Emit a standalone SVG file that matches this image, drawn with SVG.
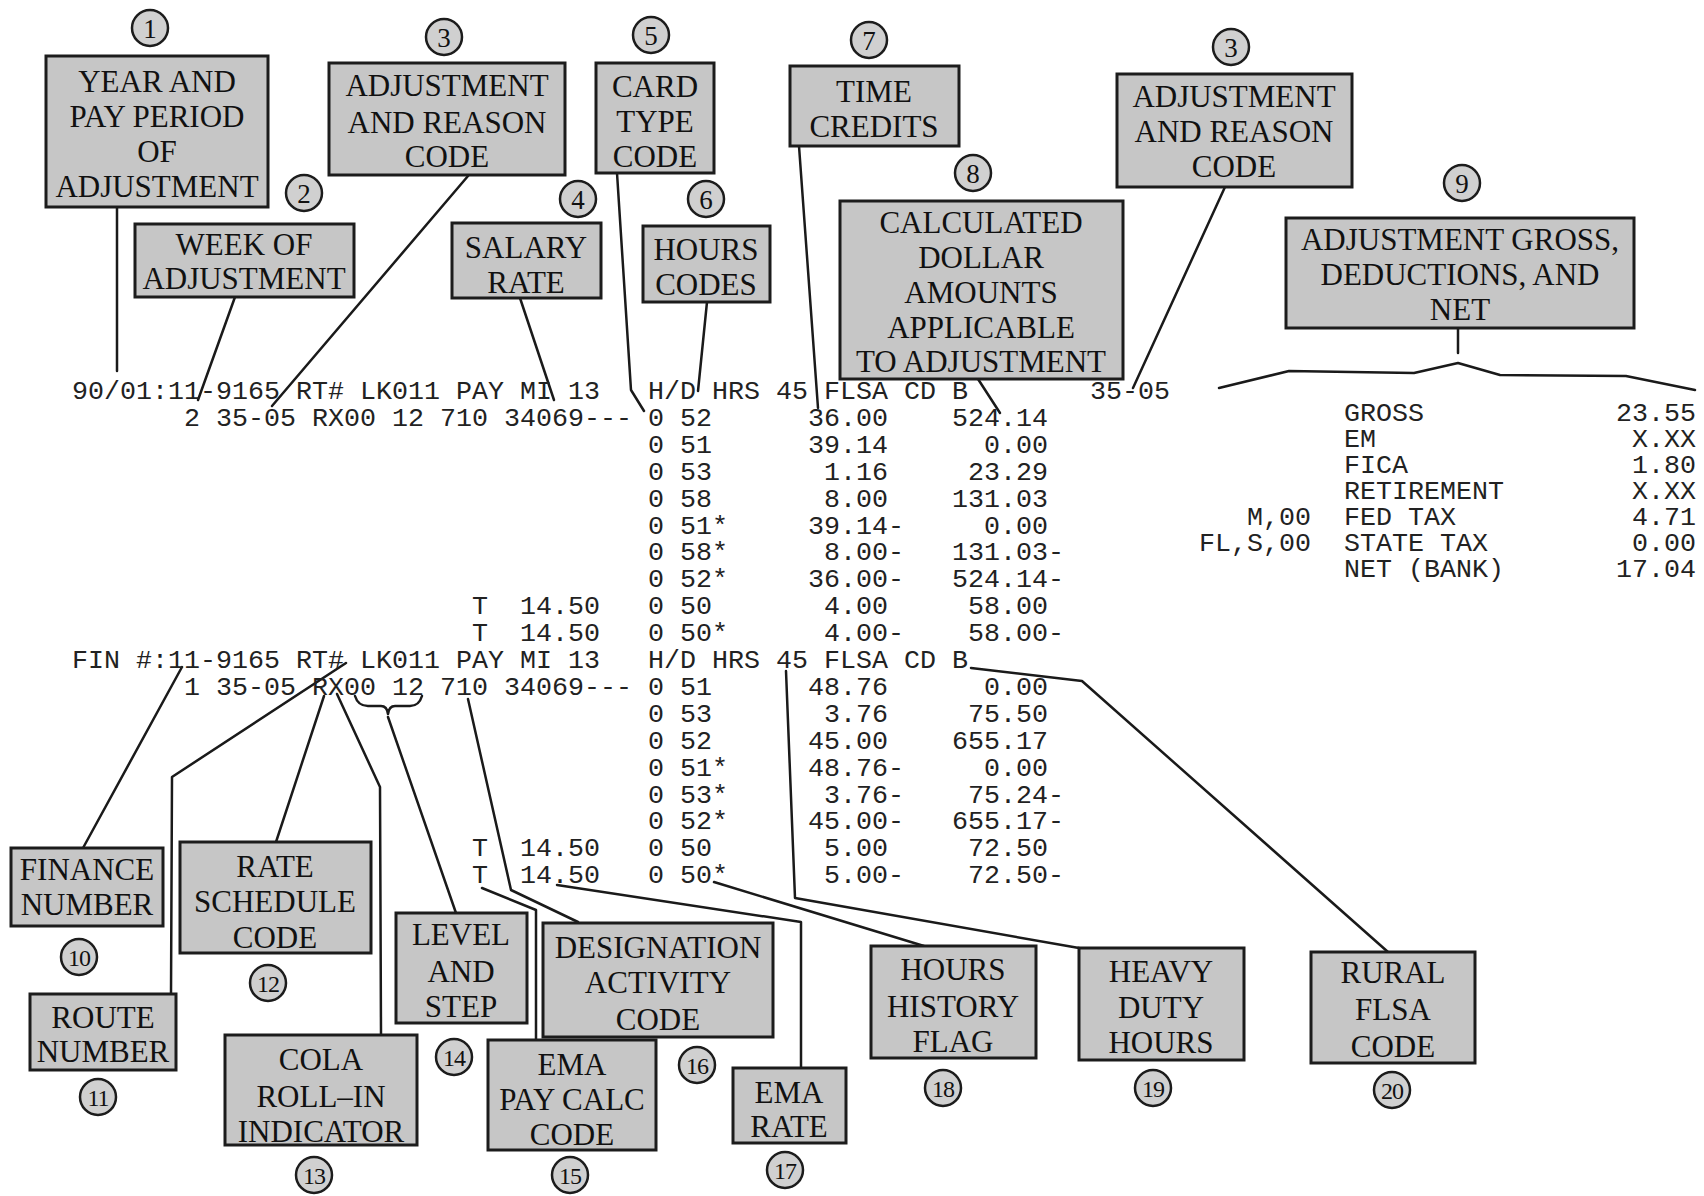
<svg xmlns="http://www.w3.org/2000/svg" width="1704" height="1196" viewBox="0 0 1704 1196">
<style>
.box{fill:#c6c6c6;stroke:#1c1c1c;stroke-width:3}
.cir{fill:#d0d0d0;stroke:#1c1c1c;stroke-width:2.5}
.lbl{font-family:"Liberation Serif","Times New Roman",serif;font-size:31px;text-anchor:middle;fill:#111}
.num{font-family:"Liberation Serif","Times New Roman",serif;font-size:27px;text-anchor:middle;fill:#111}
.num2{font-family:"Liberation Serif","Times New Roman",serif;font-size:24px;text-anchor:middle;fill:#111;letter-spacing:-1px}
.mono{font-family:"Liberation Mono","Courier New",monospace;font-size:26.67px;fill:#222}
.end{text-anchor:end}
.conn{fill:none;stroke:#1a1a1a;stroke-width:2.5;stroke-linejoin:round;stroke-linecap:round}
</style>
<rect width="1704" height="1196" fill="#ffffff"/>

<!-- connectors -->
<g id="connectors" class="conn">
<path d="M117,207 L117,371"/>
<path d="M235,297 L198,400"/>
<path d="M468,176 L272,406"/>
<path d="M520,298 L554,400"/>
<path d="M617,173 L631,390 L644,411"/>
<path d="M707,302 L698,391"/>
<path d="M799,146 L818,408"/>
<path d="M978,379 L1000,413"/>
<path d="M1225,187 L1133,388"/>
<path d="M1458,328 L1458,353"/>
<path d="M1219,388 L1289,371 L1414,373 L1458,363 L1500,375 L1626,376 L1695,390"/>
<path d="M182,667 L83,848"/>
<path d="M346,663 L172,777 L171,994"/>
<path d="M324,696 L276,842"/>
<path d="M337,694 L380,787 L381,1035"/>
<path d="M355,696 Q358,706 368,706 L381,706 Q387,706 388,714 Q389,706 395,706 L410,706 Q419,706 422,696"/>
<path d="M388,717 L456,913"/>
<path d="M482,888 L536,910 L536,1040"/>
<path d="M468,699 L511,890 L578,922"/>
<path d="M557,885 L801,922 L801,1068"/>
<path d="M714,882 L924,946"/>
<path d="M786,671 L795,898 L1079,948"/>
<path d="M971,668 L1082,681 L1388,952"/>
</g>

<!-- top nodes -->
<g id="n1">
<rect class="box" x="46" y="56" width="222" height="151"/>
<text class="lbl" x="157" y="92">YEAR AND</text>
<text class="lbl" x="157" y="127">PAY PERIOD</text>
<text class="lbl" x="157" y="162">OF</text>
<text class="lbl" x="157" y="197">ADJUSTMENT</text>
<circle class="cir" cx="150" cy="28" r="18"/><text class="num" x="150" y="37.5">1</text>
</g>
<g id="n2">
<rect class="box" x="135" y="224" width="219" height="73"/>
<text class="lbl" x="244" y="255">WEEK OF</text>
<text class="lbl" x="244" y="289">ADJUSTMENT</text>
<circle class="cir" cx="304" cy="193" r="18"/><text class="num" x="304" y="202.5">2</text>
</g>
<g id="n3a">
<rect class="box" x="329" y="63" width="236" height="112"/>
<text class="lbl" x="447" y="96">ADJUSTMENT</text>
<text class="lbl" x="447" y="133">AND REASON</text>
<text class="lbl" x="447" y="167">CODE</text>
<circle class="cir" cx="444" cy="37" r="18"/><text class="num" x="444" y="46.5">3</text>
</g>
<g id="n4">
<rect class="box" x="452" y="223" width="149" height="75"/>
<text class="lbl" x="526" y="258">SALARY</text>
<text class="lbl" x="526" y="293">RATE</text>
<circle class="cir" cx="578" cy="199" r="18"/><text class="num" x="578" y="208.5">4</text>
</g>
<g id="n5">
<rect class="box" x="596" y="63" width="118" height="110"/>
<text class="lbl" x="655" y="97">CARD</text>
<text class="lbl" x="655" y="132">TYPE</text>
<text class="lbl" x="655" y="167">CODE</text>
<circle class="cir" cx="651" cy="35" r="18"/><text class="num" x="651" y="44.5">5</text>
</g>
<g id="n6">
<rect class="box" x="643" y="226" width="127" height="76"/>
<text class="lbl" x="706" y="260">HOURS</text>
<text class="lbl" x="706" y="295">CODES</text>
<circle class="cir" cx="706" cy="199" r="18"/><text class="num" x="706" y="208.5">6</text>
</g>
<g id="n7">
<rect class="box" x="790" y="66" width="169" height="80"/>
<text class="lbl" x="874" y="102">TIME</text>
<text class="lbl" x="874" y="137">CREDITS</text>
<circle class="cir" cx="869" cy="40" r="18"/><text class="num" x="869" y="49.5">7</text>
</g>
<g id="n8">
<rect class="box" x="840" y="201" width="283" height="178"/>
<text class="lbl" x="981" y="233">CALCULATED</text>
<text class="lbl" x="981" y="268">DOLLAR</text>
<text class="lbl" x="981" y="303">AMOUNTS</text>
<text class="lbl" x="981" y="338">APPLICABLE</text>
<text class="lbl" x="981" y="372">TO ADJUSTMENT</text>
<circle class="cir" cx="973" cy="173" r="18"/><text class="num" x="973" y="182.5">8</text>
</g>
<g id="n3b">
<rect class="box" x="1117" y="74" width="235" height="113"/>
<text class="lbl" x="1234" y="107">ADJUSTMENT</text>
<text class="lbl" x="1234" y="142">AND REASON</text>
<text class="lbl" x="1234" y="177">CODE</text>
<circle class="cir" cx="1231" cy="47" r="18"/><text class="num" x="1231" y="56.5">3</text>
</g>
<g id="n9">
<rect class="box" x="1286" y="218" width="348" height="110"/>
<text class="lbl" x="1460" y="250">ADJUSTMENT GROSS,</text>
<text class="lbl" x="1460" y="285">DEDUCTIONS, AND</text>
<text class="lbl" x="1460" y="320">NET</text>
<circle class="cir" cx="1462" cy="183" r="18"/><text class="num" x="1462" y="192.5">9</text>
</g>

<!-- bottom nodes -->
<g id="n10">
<rect class="box" x="11" y="848" width="152" height="78"/>
<text class="lbl" x="87" y="880">FINANCE</text>
<text class="lbl" x="87" y="915">NUMBER</text>
<circle class="cir" cx="79" cy="957" r="18"/><text class="num2" x="79" y="965.5">10</text>
</g>
<g id="n11">
<rect class="box" x="30" y="994" width="146" height="76"/>
<text class="lbl" x="103" y="1028">ROUTE</text>
<text class="lbl" x="103" y="1062">NUMBER</text>
<circle class="cir" cx="98" cy="1097" r="18"/><text class="num2" x="98" y="1105.5">11</text>
</g>
<g id="n12">
<rect class="box" x="180" y="842" width="191" height="111"/>
<text class="lbl" x="275" y="877">RATE</text>
<text class="lbl" x="275" y="912">SCHEDULE</text>
<text class="lbl" x="275" y="948">CODE</text>
<circle class="cir" cx="268" cy="983" r="18"/><text class="num2" x="268" y="991.5">12</text>
</g>
<g id="n13">
<rect class="box" x="225" y="1035" width="192" height="110"/>
<text class="lbl" x="321" y="1070">COLA</text>
<text class="lbl" x="321" y="1107">ROLL–IN</text>
<text class="lbl" x="321" y="1142">INDICATOR</text>
<circle class="cir" cx="314" cy="1175" r="18"/><text class="num2" x="314" y="1183.5">13</text>
</g>
<g id="n14">
<rect class="box" x="396" y="913" width="131" height="110"/>
<text class="lbl" x="461" y="945">LEVEL</text>
<text class="lbl" x="461" y="982">AND</text>
<text class="lbl" x="461" y="1017">STEP</text>
<circle class="cir" cx="454" cy="1057" r="18"/><text class="num2" x="454" y="1065.5">14</text>
</g>
<g id="n15">
<rect class="box" x="488" y="1040" width="168" height="110"/>
<text class="lbl" x="572" y="1075">EMA</text>
<text class="lbl" x="572" y="1110">PAY CALC</text>
<text class="lbl" x="572" y="1145">CODE</text>
<circle class="cir" cx="570" cy="1175" r="18"/><text class="num2" x="570" y="1183.5">15</text>
</g>
<g id="n16">
<rect class="box" x="543" y="923" width="230" height="114"/>
<text class="lbl" x="658" y="958">DESIGNATION</text>
<text class="lbl" x="658" y="993">ACTIVITY</text>
<text class="lbl" x="658" y="1030">CODE</text>
<circle class="cir" cx="697" cy="1065" r="18"/><text class="num2" x="697" y="1073.5">16</text>
</g>
<g id="n17">
<rect class="box" x="733" y="1068" width="113" height="75"/>
<text class="lbl" x="789" y="1103">EMA</text>
<text class="lbl" x="789" y="1137">RATE</text>
<circle class="cir" cx="785" cy="1170" r="18"/><text class="num2" x="785" y="1178.5">17</text>
</g>
<g id="n18">
<rect class="box" x="871" y="946" width="165" height="112"/>
<text class="lbl" x="953" y="980">HOURS</text>
<text class="lbl" x="953" y="1017">HISTORY</text>
<text class="lbl" x="953" y="1052">FLAG</text>
<circle class="cir" cx="943" cy="1088" r="18"/><text class="num2" x="943" y="1096.5">18</text>
</g>
<g id="n19">
<rect class="box" x="1079" y="948" width="165" height="112"/>
<text class="lbl" x="1161" y="982">HEAVY</text>
<text class="lbl" x="1161" y="1018">DUTY</text>
<text class="lbl" x="1161" y="1053">HOURS</text>
<circle class="cir" cx="1153" cy="1088" r="18"/><text class="num2" x="1153" y="1096.5">19</text>
</g>
<g id="n20">
<rect class="box" x="1311" y="952" width="164" height="111"/>
<text class="lbl" x="1393" y="983">RURAL</text>
<text class="lbl" x="1393" y="1020">FLSA</text>
<text class="lbl" x="1393" y="1057">CODE</text>
<circle class="cir" cx="1392" cy="1090" r="18"/><text class="num2" x="1392" y="1098.5">20</text>
</g>

<!-- printout -->
<g id="printout" class="mono">
<text y="399"><tspan x="72">90/01:11-9165 RT# LK011 PAY MI 13</tspan><tspan x="648">H/D HRS 45 FLSA CD B</tspan><tspan x="1090">35-05</tspan></text>
<text y="426"><tspan x="184">2 35-05 RX00 12 710 34069---</tspan><tspan x="648">0 52</tspan><tspan x="808">36.00</tspan><tspan x="952">524.14</tspan></text>
<text y="452.8"><tspan x="648">0 51</tspan><tspan x="808">39.14</tspan><tspan x="984">0.00</tspan></text>
<text y="479.7"><tspan x="648">0 53</tspan><tspan x="824">1.16</tspan><tspan x="968">23.29</tspan></text>
<text y="506.6"><tspan x="648">0 58</tspan><tspan x="824">8.00</tspan><tspan x="952">131.03</tspan></text>
<text y="533.5"><tspan x="648">0 51*</tspan><tspan x="808">39.14-</tspan><tspan x="984">0.00</tspan></text>
<text y="560.4"><tspan x="648">0 58*</tspan><tspan x="824">8.00-</tspan><tspan x="952">131.03-</tspan></text>
<text y="587.3"><tspan x="648">0 52*</tspan><tspan x="808">36.00-</tspan><tspan x="952">524.14-</tspan></text>
<text y="614.2"><tspan x="472">T</tspan><tspan x="520">14.50</tspan><tspan x="648">0 50</tspan><tspan x="824">4.00</tspan><tspan x="968">58.00</tspan></text>
<text y="641.1"><tspan x="472">T</tspan><tspan x="520">14.50</tspan><tspan x="648">0 50*</tspan><tspan x="824">4.00-</tspan><tspan x="968">58.00-</tspan></text>
<text y="668"><tspan x="72">FIN #:11-9165 RT# LK011 PAY MI 13</tspan><tspan x="648">H/D HRS 45 FLSA CD B</tspan></text>
<text y="694.9"><tspan x="184">1 35-05 RX00 12 710 34069---</tspan><tspan x="648">0 51</tspan><tspan x="808">48.76</tspan><tspan x="984">0.00</tspan></text>
<text y="721.8"><tspan x="648">0 53</tspan><tspan x="824">3.76</tspan><tspan x="968">75.50</tspan></text>
<text y="748.7"><tspan x="648">0 52</tspan><tspan x="808">45.00</tspan><tspan x="952">655.17</tspan></text>
<text y="775.6"><tspan x="648">0 51*</tspan><tspan x="808">48.76-</tspan><tspan x="984">0.00</tspan></text>
<text y="802.5"><tspan x="648">0 53*</tspan><tspan x="824">3.76-</tspan><tspan x="968">75.24-</tspan></text>
<text y="829.4"><tspan x="648">0 52*</tspan><tspan x="808">45.00-</tspan><tspan x="952">655.17-</tspan></text>
<text y="856.3"><tspan x="472">T</tspan><tspan x="520">14.50</tspan><tspan x="648">0 50</tspan><tspan x="824">5.00</tspan><tspan x="968">72.50</tspan></text>
<text y="883.2"><tspan x="472">T</tspan><tspan x="520">14.50</tspan><tspan x="648">0 50*</tspan><tspan x="824">5.00-</tspan><tspan x="968">72.50-</tspan></text>

<text x="1344" y="421">GROSS</text>
<text x="1344" y="447">EM</text>
<text x="1344" y="473">FICA</text>
<text x="1344" y="499">RETIREMENT</text>
<text x="1344" y="525">FED TAX</text>
<text x="1344" y="551">STATE TAX</text>
<text x="1344" y="577">NET (BANK)</text>
<text class="end" x="1311" y="525">M,00</text>
<text class="end" x="1311" y="551">FL,S,00</text>
<text class="end" x="1696" y="421">23.55</text>
<text class="end" x="1696" y="447">X.XX</text>
<text class="end" x="1696" y="473">1.80</text>
<text class="end" x="1696" y="499">X.XX</text>
<text class="end" x="1696" y="525">4.71</text>
<text class="end" x="1696" y="551">0.00</text>
<text class="end" x="1696" y="577">17.04</text>
</g>
</svg>
